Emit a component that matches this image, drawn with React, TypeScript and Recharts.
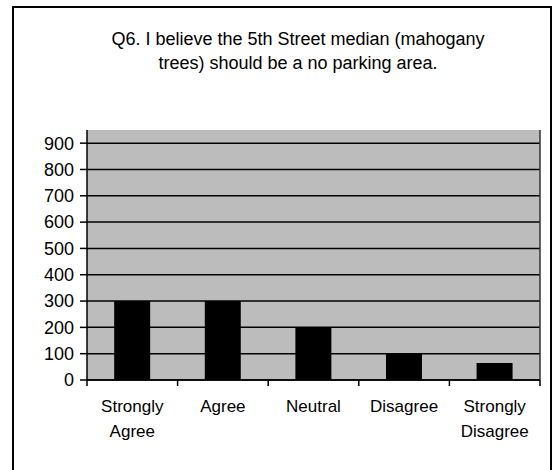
import { BarChart, Bar, XAxis, YAxis, CartesianGrid } from "recharts";

const categories = ["Strongly Agree", "Agree", "Neutral", "Disagree", "Strongly Disagree"];
const labelLines = [["Strongly", "Agree"], ["Agree"], ["Neutral"], ["Disagree"], ["Strongly", "Disagree"]];
const responses = [300, 300, 200, 100, 65];
const yTicks = [0, 100, 200, 300, 400, 500, 600, 700, 800, 900];

const data = categories.map((name, i) => ({ name, value: responses[i] }));

const font = "'Liberation Sans', Arial, sans-serif";

// Excel-style ticks sit between categories, so draw them at the band edges
function CategoryTick({ x, y, index, payload, visibleTicksCount }: any) {
  const lines = labelLines[index] || [];
  const half = payload && payload.offset ? payload.offset : 0;
  const axisY = y;
  return (
    <g>
      <line x1={x - half} x2={x - half} y1={axisY} y2={axisY + 6} stroke="#000" strokeWidth={1.5} />
      {index === visibleTicksCount - 1 && (
        <line x1={x + half} x2={x + half} y1={axisY} y2={axisY + 6} stroke="#000" strokeWidth={1.5} />
      )}
      <text x={x} y={y} textAnchor="middle" fill="#000" fontSize={17} fontFamily={font}>
        {lines.map((l, i) => (
          <tspan key={i} x={x} dy={i === 0 ? 32 : 25}>
            {l}
          </tspan>
        ))}
      </text>
    </g>
  );
}

export default function App() {
  return (
    <div
      style={{
        position: "absolute",
        left: 0,
        top: 0,
        width: 559,
        height: 470,
        overflow: "hidden",
        background: "#fff",
      }}
    >
      {/* chart frame, bottom edge runs off the page */}
      <div
        style={{
          position: "absolute",
          left: 12,
          top: 6,
          width: 536,
          height: 480,
          border: "2px solid #000",
        }}
      />
      <div
        style={{
          position: "absolute",
          left: 0,
          top: 27,
          width: 596,
          textAlign: "center",
          fontFamily: font,
          fontSize: 18,
          lineHeight: "24px",
          color: "#000",
        }}
      >
        Q6. I believe the 5th Street median (mahogany
        <br />
        trees) should be a no parking area.
      </div>
      <div style={{ position: "absolute", left: 0, top: 0 }}>
        <BarChart
          width={559}
          height={470}
          data={data}
          margin={{ top: 130, right: 18, left: 0, bottom: 0 }}
          barCategoryGap="30%"
        >
          <CartesianGrid
            vertical={false}
            fill="#bcbcbc"
            fillOpacity={1}
            stroke="#000"
            strokeWidth={1.5}
            horizontalValues={yTicks}
          />
          <XAxis
            dataKey="name"
            interval={0}
            tick={<CategoryTick />}
            tickLine={false}
            tickSize={0}
            tickMargin={0}
            axisLine={{ stroke: "#000", strokeWidth: 1.5 }}
            height={90}
          />
          <YAxis
            domain={[0, 950]}
            ticks={yTicks}
            width={87}
            tickSize={7}
            tickMargin={6}
            interval={0}
            axisLine={{ stroke: "#000", strokeWidth: 1.5 }}
            tickLine={{ stroke: "#000", strokeWidth: 1.5 }}
            tick={{ fill: "#000", fontSize: 18, fontFamily: font }}
          />
          <YAxis
            yAxisId="right"
            orientation="right"
            domain={[0, 950]}
            width={1}
            tick={false}
            tickLine={false}
            axisLine={{ stroke: "#333", strokeWidth: 1.5 }}
          />
          <Bar dataKey="value" fill="#000" isAnimationActive={false} />
        </BarChart>
      </div>
    </div>
  );
}
